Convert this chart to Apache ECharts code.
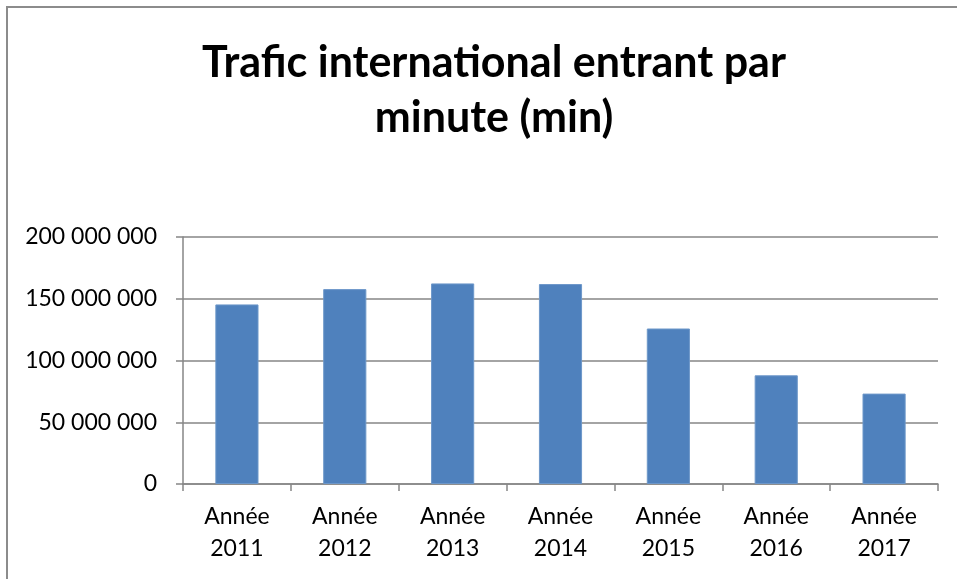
<!DOCTYPE html>
<html>
<head>
<meta charset="utf-8">
<script src="https://cdn.jsdelivr.net/npm/echarts@6/dist/echarts.min.js"></script>
<style>
html,body{margin:0;padding:0;background:#fff;}
#chart{width:957px;height:579px;}
</style>
</head>
<body>
<div id="chart"></div>
<script>
const titleText = "Trafic international entrant par\nminute (min)";
const categories = ["Année\n2011", "Année\n2012", "Année\n2013", "Année\n2014", "Année\n2015", "Année\n2016", "Année\n2017"];
const values = [145400000, 157800000, 162400000, 161900000, 125900000, 88000000, 73200000];
const yMin = 0;
const yMax = 200000000;
const yInterval = 50000000;

function fmt(v) {
  return String(Math.round(v)).replace(/\B(?=(\d{3})+(?!\d))/g, " ");
}

const chart = echarts.init(document.getElementById('chart'), null, {renderer: 'canvas'});
chart.setOption({
  backgroundColor: '#ffffff',
  animation: false,
  title: {
    text: titleText,
    left: 489,
    top: 31,
    textAlign: 'center',
    textStyle: {
      fontFamily: 'Lato',
      fontWeight: 'bold',
      fontSize: 43,
      lineHeight: 55,
      color: '#000'
    }
  },
  graphic: [{
    type: 'polyline',
    silent: true,
    shape: {points: [[7, 579], [7, 7], [957, 7]]},
    style: {stroke: '#8c8c8c', lineWidth: 2, fill: null}
  }],
  grid: {left: 183, right: 19, top: 237, bottom: 95, containLabel: false},
  xAxis: {
    type: 'category',
    data: categories,
    axisLine: {show: true, lineStyle: {color: '#868686', width: 1.5}},
    axisTick: {show: true, length: 7, lineStyle: {color: '#868686', width: 1.5}},
    axisLabel: {
      color: '#000',
      fontFamily: 'Lato',
      fontSize: 23,
      lineHeight: 32,
      margin: 17,
      interval: 0
    },
    splitLine: {show: false}
  },
  yAxis: {
    type: 'value',
    min: yMin,
    max: yMax,
    interval: yInterval,
    axisLine: {show: true, lineStyle: {color: '#868686', width: 1.5}},
    axisTick: {show: true, length: 7, lineStyle: {color: '#868686', width: 1.5}},
    axisLabel: {
      color: '#000',
      fontFamily: 'Lato',
      fontSize: 23,
      margin: 26,
      formatter: fmt
    },
    splitLine: {show: true, lineStyle: {color: '#868686', width: 1.5}}
  },
  series: [{
    type: 'bar',
    data: values,
    barWidth: '40%',
    itemStyle: {color: '#4F81BD', borderColor: '#6d97c9', borderWidth: 1}
  }]
});
</script>
</body>
</html>
